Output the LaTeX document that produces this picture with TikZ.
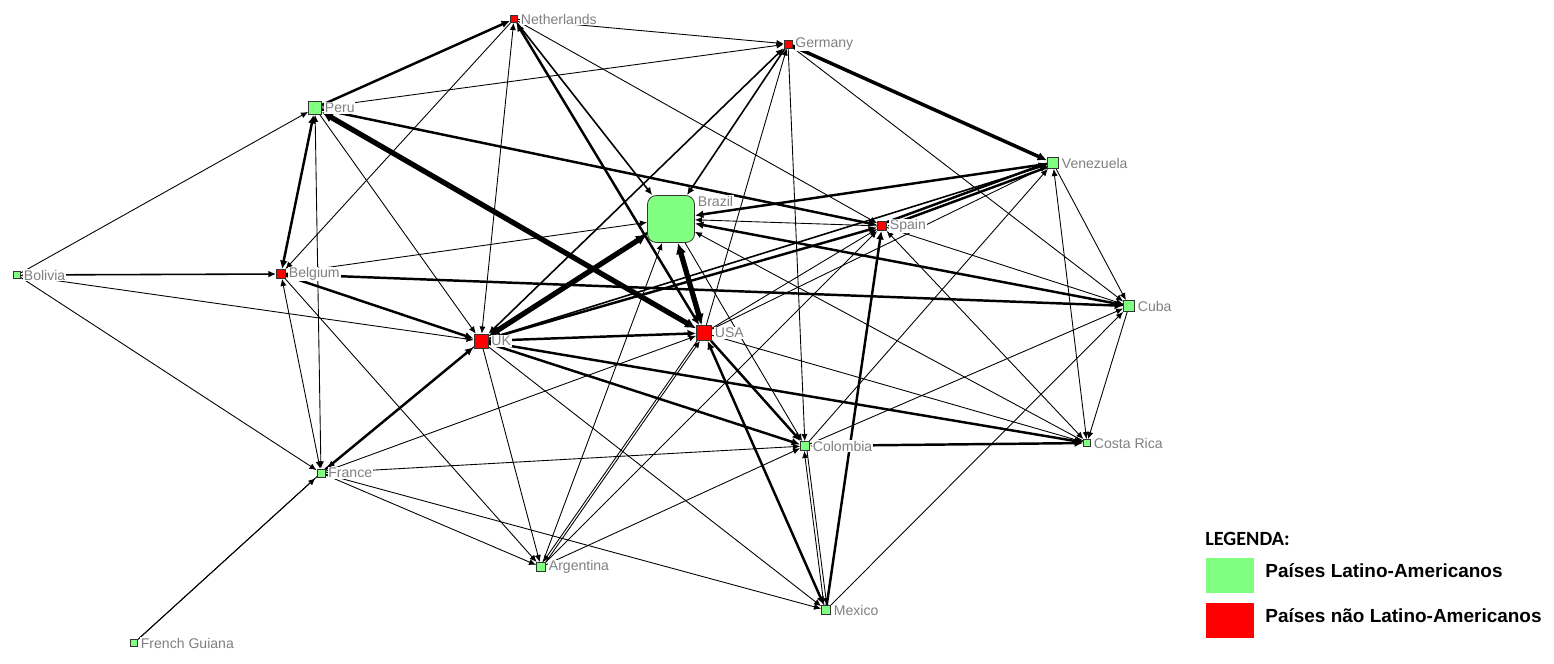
\documentclass[tikz,border=0pt]{standalone}
\usepackage{fontspec}
\setmainfont{Liberation Sans}
\newfontfamily\lbfont{Liberation Sans}
\newfontfamily\legfont{Carlito}
\usetikzlibrary{arrows.meta}
\definecolor{lgreen}{RGB}{128,255,128}
\definecolor{lblgray}{RGB}{128,128,128}
\pgfdeclarelayer{bg}
\pgfsetlayers{bg,main}
\begin{document}
\begin{tikzpicture}[x=0.02cm,y=-0.02cm,
  >={Latex[length=3.6pt 0.9,width=3pt 1]},
  nd/.style={draw=black!80,line width=0.45pt,inner sep=0pt,minimum size={#1*0.02cm}},
  lat/.style={nd=#1,fill=lgreen},
  nlat/.style={nd=#1,fill=red},
  lbl/.style={text=lblgray,font=\lbfont\fontsize{8}{9}\selectfont,fill=white,inner sep=0.5pt,anchor=west},
  ea/.style={line width=0.5pt},
  eb/.style={line width=0.9pt},
  ec/.style={line width=1.4pt},
  ed/.style={line width=2.0pt},
  ee/.style={line width=3.0pt},
  legtxt/.style={font=\lbfont\bfseries\fontsize{10.8}{12}\selectfont,anchor=west,inner sep=0pt},
  legbox/.style={inner sep=0pt,minimum width={48*0.02cm},minimum height={35*0.02cm},anchor=north west}
]
\useasboundingbox (0,0) rectangle (1554,663);
% nodes
\node[nlat=7] (NL) at (514,19) {};
\node[nlat=8] (DE) at (788,44) {};
\node[lat=13] (PE) at (315,108) {};
\node[lat=11] (VE) at (1053,163) {};
\node[lat=47,rounded corners=5pt] (BR) at (671,219) {};
\node[nlat=9] (ES) at (882,226) {};
\node[lat=7] (BO) at (17,275) {};
\node[nlat=9] (BE) at (281,274) {};
\node[lat=11] (CU) at (1129,306) {};
\node[nlat=15] (US) at (704,333) {};
\node[nlat=14] (UK) at (481,341) {};
\node[lat=9] (CO) at (805,446) {};
\node[lat=7] (CR) at (1087,443) {};
\node[lat=9] (MX) at (826,610) {};
\node[lat=9] (AR) at (541,567) {};
\node[lat=8] (FR) at (321,473) {};
\node[lat=7] (FG) at (134,643) {};
% labels
\node[lbl] (NLl) at ([xshift=1pt]NL.east) {Netherlands};
\node[lbl] (DEl) at ([xshift=1pt]DE.east) {Germany};
\node[lbl] (PEl) at ([xshift=1pt]PE.east) {Peru};
\node[lbl] (VEl) at ([xshift=1pt]VE.east) {Venezuela};
\node[lbl] (BRl) at ([xshift=1pt,yshift=-3.5pt]BR.north east) {Brazil};
\node[lbl] (ESl) at ([xshift=1pt]ES.east) {Spain};
\node[lbl] (BOl) at ([xshift=1pt]BO.east) {Bolivia};
\node[lbl] (BEl) at ([xshift=1pt]BE.east) {Belgium};
\node[lbl] (CUl) at ([xshift=1pt]CU.east) {Cuba};
\node[lbl] (USl) at ([xshift=1pt]US.east) {USA};
\node[lbl] (UKl) at ([xshift=1pt]UK.east) {UK};
\node[lbl] (COl) at ([xshift=1pt]CO.east) {Colombia};
\node[lbl] (CRl) at ([xshift=1pt]CR.east) {Costa Rica};
\node[lbl] (MXl) at ([xshift=1pt]MX.east) {Mexico};
\node[lbl] (ARl) at ([xshift=1pt]AR.east) {Argentina};
\node[lbl] (FRl) at ([xshift=1pt]FR.east) {France};
\node[lbl] (FGl) at ([xshift=1pt]FG.east) {French Guiana};
% edges
\begin{pgfonlayer}{bg}
\draw[ea,->] (BO) -- (PE);
\draw[eb,<->] (BO) -- (BE);
\draw[ea,->] (BO) -- (UK);
\draw[ea,->] (BO) -- (FR);
\draw[ec,->] (PE) -- (NL);
\draw[ea,->] (PE) -- (DE);
\draw[ee,<->] (PE) -- (US);
\draw[ec,->] (PE) -- (ES);
\draw[ec,<->] (PE) -- (BE);
\draw[ea,<->] (PE) -- (FR);
\draw[ea,->] (PE) -- (UK);
\draw[ea,->] (NL) -- (DE);
\draw[eb,->] (NL) -- (BR);
\draw[ec,<->] (NL) -- (US);
\draw[ea,<->] (NL) -- (UK);
\draw[ea,->] (NL) -- (ES);
\draw[ea,->] (NL) -- (BE);
\draw[ed,->] (DE) -- (VE);
\draw[eb,->] (DE) -- (BR);
\draw[eb,<->] (UK) -- (DE);
\draw[ea,->] (DE) -- (CO);
\draw[ea,->] (US) -- (DE);
\draw[ea,->] (DE) -- (CU);
\draw[ec,->,transform canvas={yshift=1.2pt}] (ES) -- (VE);
\draw[ec,->,transform canvas={yshift=-1.2pt}] (VE) -- (ES);
\draw[ec,->] (VE) -- (BR);
\draw[eb,->] (UK) -- (VE);
\draw[ea,->] (CO) -- (VE);
\draw[ea,->] (US) -- (VE);
\draw[ea,->] (VE) -- (CU);
\draw[ea,<->] (CR) -- (VE);
\draw[ee,<->] (UK) -- (BR);
\draw[ec,->,transform canvas={xshift=1.3pt,yshift=1.5pt}] (BR) -- (UK);
\draw[ee,<->] (BR) -- (US);
\draw[ec,->] (CU) -- (BR);
\draw[ea,->] (ES) -- (BR);
\draw[ea,->] (BE) -- (BR);
\draw[ea,->] (AR) -- (BR);
\draw[ea,->] (BR) -- (CO);
\draw[ea,->] (CR) -- (BR);
\draw[ec,<->] (UK) -- (ES);
\draw[ec,->] (MX) -- (ES);
\draw[ea,->] (ES) -- (CU);
\draw[ea,<->] (ES) -- (CR);
\draw[ea,->] (AR) -- (ES);
\draw[ea,->] (US) -- (ES);
\draw[ec,->] (BE) -- (CU);
\draw[ea,->] (CU) -- (CR);
\draw[ea,->] (CO) -- (CU);
\draw[ea,->] (MX) -- (CU);
\draw[ec,->] (UK) -- (CR);
\draw[ec,<->] (CO) -- (CR);
\draw[ea,->] (US) -- (CR);
\draw[ec,->] (UK) -- (US);
\draw[ec,->] (US) -- (CO);
\draw[ec,<->] (US) -- (MX);
\draw[ea,->,transform canvas={xshift=0.8pt}] (AR) -- (US);
\draw[ea,->,transform canvas={xshift=-0.8pt}] (US) -- (AR);
\draw[ea,->] (FR) -- (US);
\draw[ec,->] (UK) -- (CO);
\draw[ea,->] (UK) -- (MX);
\draw[ea,->] (UK) -- (AR);
\draw[ec,->] (BE) -- (UK);
\draw[ec,->] (FR) -- (UK);
\draw[ea,->,transform canvas={xshift=1.2pt,yshift=1pt}] (UK) -- (FR);
\draw[ea,->] (FR) -- (CO);
\draw[ea,->] (AR) -- (CO);
\draw[ea,->,transform canvas={xshift=-0.8pt}] (MX) -- (CO);
\draw[ea,->,transform canvas={xshift=0.8pt}] (CO) -- (MX);
\draw[ea,<->] (BE) -- (FR);
\draw[ea,->] (BE) -- (AR);
\draw[ea,->] (FR) -- (AR);
\draw[ea,->] (FR) -- (MX);
\draw[ea,->,transform canvas={xshift=-0.7pt,yshift=-0.7pt}] (FG) -- (FR);
\draw[ea,transform canvas={xshift=0.7pt,yshift=0.7pt}] (FR) -- (FG);
\end{pgfonlayer}
% legend
\node[anchor=west,inner sep=0pt,font=\legfont\bfseries\fontsize{11.5}{13}\selectfont] (legT) at (1205,539) {LEGENDA:};
\node[legbox,fill=lgreen] (legG) at (1206,558) {};
\node[legbox,fill=red] (legR) at (1206,603) {};
\node[legtxt] (legGt) at (1265,571) {Países Latino-Americanos};
\node[legtxt] (legRt) at (1265,616) {Países não Latino-Americanos};
\end{tikzpicture}
\end{document}
